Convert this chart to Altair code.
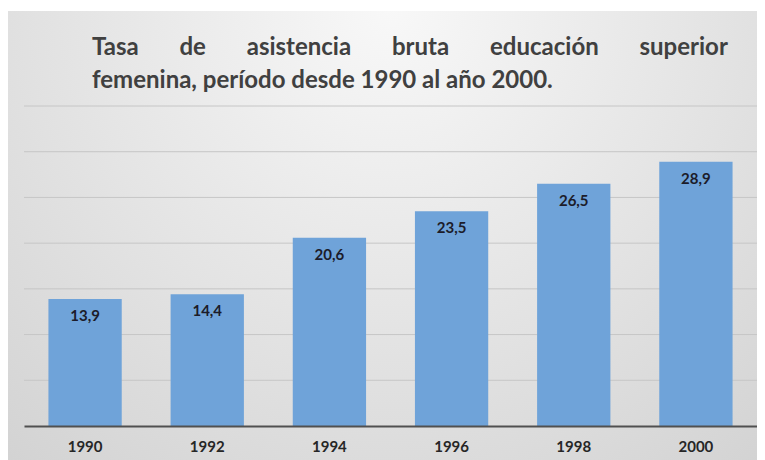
import altair as alt
import pandas as pd

years = ["1990", "1992", "1994", "1996", "1998", "2000"]
values = [13.9, 14.4, 20.6, 23.5, 26.5, 28.9]
value_labels = ["13,9", "14,4", "20,6", "23,5", "26,5", "28,9"]
title_lines = [
    "Tasa" + "\u00a0" * 7 + "de" + "\u00a0" * 7 + "asistencia" + "\u00a0" * 7 + "bruta" + "\u00a0" * 7
    + "educación" + "\u00a0" * 7 + "superior",
    "femenina, período desde 1990 al año 2000.",
]
y_ticks = [5, 10, 15, 20, 25, 30, 35]

W, H = 733, 320
FONT = "Lato"

df = pd.DataFrame({"year": years, "value": values, "label": value_labels})

bg = alt.Chart(pd.DataFrame({"a": [0]})).mark_rect(
    color=alt.RadialGradient(
        gradient="radial",
        stops=[alt.GradientStop(offset=0, color="#f8f8f8"),
               alt.GradientStop(offset=1, color="#cfcfcf")],
        x1=0.5, y1=0.2, x2=0.5, y2=0.2, r1=0, r2=0.85,
    )
).encode(x=alt.value(-18), x2=alt.value(W + 16), y=alt.value(-95), y2=alt.value(H + 40))

yscale = alt.Scale(domain=[0, 35], nice=False)

grid = alt.Chart(pd.DataFrame({"v": y_ticks})).mark_rule(
    color="#c6c6c6", strokeWidth=1
).encode(y=alt.Y("v:Q", scale=yscale, axis=None), x=alt.value(0), x2=alt.value(W))

xscale = alt.Scale(paddingInner=0.4, paddingOuter=0.2)

bars = alt.Chart(df).mark_bar(color="#6fa3d9").encode(
    x=alt.X("year:O", scale=xscale, sort=years,
            axis=alt.Axis(title=None, labelAngle=0, ticks=False, domain=True,
                          domainColor="#505050", domainWidth=2, zindex=2,
                          labelFont=FONT, labelFontSize=15, labelFontWeight="bold",
                          labelColor="#262626", labelPadding=13)),
    y=alt.Y("value:Q", scale=yscale, axis=None),
)

labels = alt.Chart(df).mark_text(
    baseline="top", dy=10, font=FONT, fontSize=15, fontWeight="bold", color="#1c1c2a"
).encode(
    x=alt.X("year:O", scale=xscale, sort=years),
    y=alt.Y("value:Q", scale=yscale, axis=None),
    text="label:N",
)

t1 = alt.Chart(pd.DataFrame({"t": [title_lines[0]]})).mark_text(
    align="left", baseline="alphabetic", font=FONT, fontSize=24, fontWeight="bold", color="#404040"
).encode(text="t:N", x=alt.value(68), y=alt.value(-51))

t2 = alt.Chart(pd.DataFrame({"t": [title_lines[1]]})).mark_text(
    align="left", baseline="alphabetic", font=FONT, fontSize=24, fontWeight="bold", color="#404040"
).encode(text="t:N", x=alt.value(68), y=alt.value(-18))

chart = alt.layer(bg, grid, bars, labels, t1, t2).properties(
    width=W, height=H,
    autosize=alt.AutoSizeParams(type="none"),
    padding={"left": 16, "top": 98, "right": 0, "bottom": 36},
    background="white",
).configure_view(stroke=None)

chart.save("out.html", embed_options={"renderer": "svg", "actions": False})
